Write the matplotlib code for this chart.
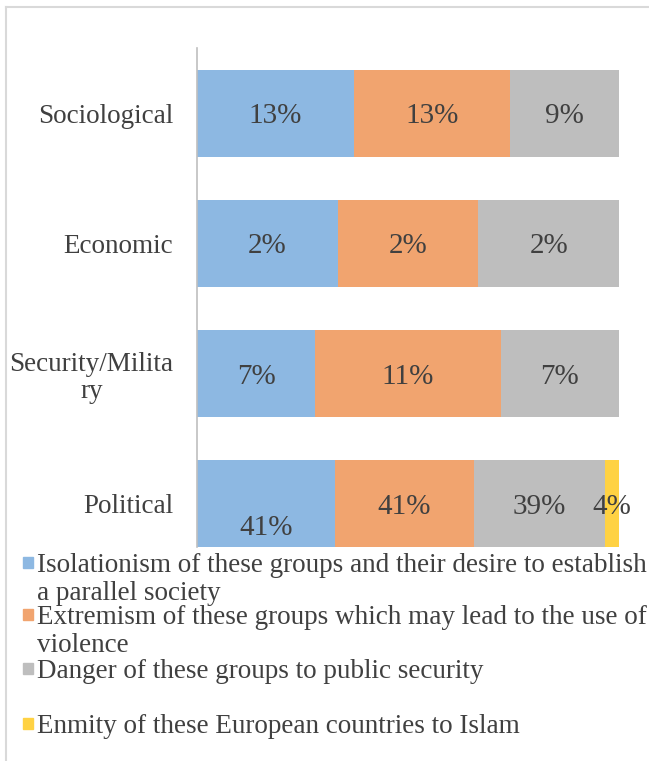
import matplotlib
matplotlib.use("Agg")
import matplotlib.pyplot as plt
from matplotlib.patches import Rectangle
from matplotlib.lines import Line2D
import numpy as np

categories = ["Political", "Security/Milita\nry", "Economic", "Sociological"]
series_names = [
    "Isolationism of these groups and their desire to establish\na parallel society",
    "Extremism of these groups which may lead to the use of\nviolence",
    "Danger of these groups to public security",
    "Enmity of these European countries to Islam",
]
isolationism = [41, 7, 2, 13]
extremism = [41, 11, 2, 13]
danger = [39, 7, 2, 9]
enmity = [4, 0, 0, 0]
colors = ["#8DB8E2", "#F1A46F", "#BEBEBE", "#FFD243"]

values = np.array([isolationism, extremism, danger, enmity], dtype=float)
totals = values.sum(axis=0)
shares = values / totals

plt.rcParams["font.family"] = ["Liberation Serif", "DejaVu Serif"]
text_color = "#404040"

fig = plt.figure(figsize=(6.49, 7.61), dpi=100)
ax = fig.add_axes([197 / 649, 1 - 569 / 761, 422 / 649, 521 / 761])

y = np.arange(len(categories))
left = np.zeros(len(categories))
for i in range(len(values)):
    ax.barh(y, shares[i], left=left, height=0.667, color=colors[i], zorder=2)
    for j in range(len(categories)):
        if values[i, j] > 0:
            cx = left[j] + shares[i, j] / 2
            cy = y[j]
            # first political label sits lower in the bar
            if i == 0 and j == 0:
                cy = y[j] - 0.16
            ax.text(cx, cy, f"{int(values[i, j])}%", ha="center", va="center_baseline",
                    fontsize=21, color=text_color, zorder=3)
    left += shares[i]

ax.set_xlim(0, 1)
ax.set_ylim(-0.5, 3.5)
ax.set_yticks(y)
ax.set_yticklabels(categories, fontsize=19.5, color=text_color,
                   multialignment="center", linespacing=1.1)
ax.tick_params(axis="y", length=0, pad=17)
ax.set_xticks([])
for s in ["top", "right", "bottom"]:
    ax.spines[s].set_visible(False)
ax.spines["left"].set_color("#BFBFBF")
ax.spines["left"].set_linewidth(1.2)

# legend drawn by hand, white block over the lower part of the axes
fig.patches.append(Rectangle((15 / 649, 0), 634 / 649, 1 - 548 / 761,
                             transform=fig.transFigure, color="white", zorder=5))
legend_y = [562, 614, 668, 723]
for name, c, ly in zip(series_names, colors, legend_y):
    fig.patches.append(Rectangle((23 / 649, 1 - (ly + 6) / 761), 10 / 649, 11 / 761,
                                 transform=fig.transFigure, color=c, zorder=6))
    fig.text(37 / 649, 1 - (ly - 9) / 761, name, fontsize=19.5, color=text_color,
             va="top", ha="left", linespacing=1.15, zorder=7)

# outer chart border
fig.add_artist(Line2D([6 / 649, 6 / 649], [0, 1 - 7 / 761], transform=fig.transFigure,
                      color="#D9D9D9", lw=1.5))
fig.add_artist(Line2D([6 / 649, 1], [1 - 7 / 761, 1 - 7 / 761], transform=fig.transFigure,
                      color="#D9D9D9", lw=1.5))

fig.savefig("out.png", dpi=100)
